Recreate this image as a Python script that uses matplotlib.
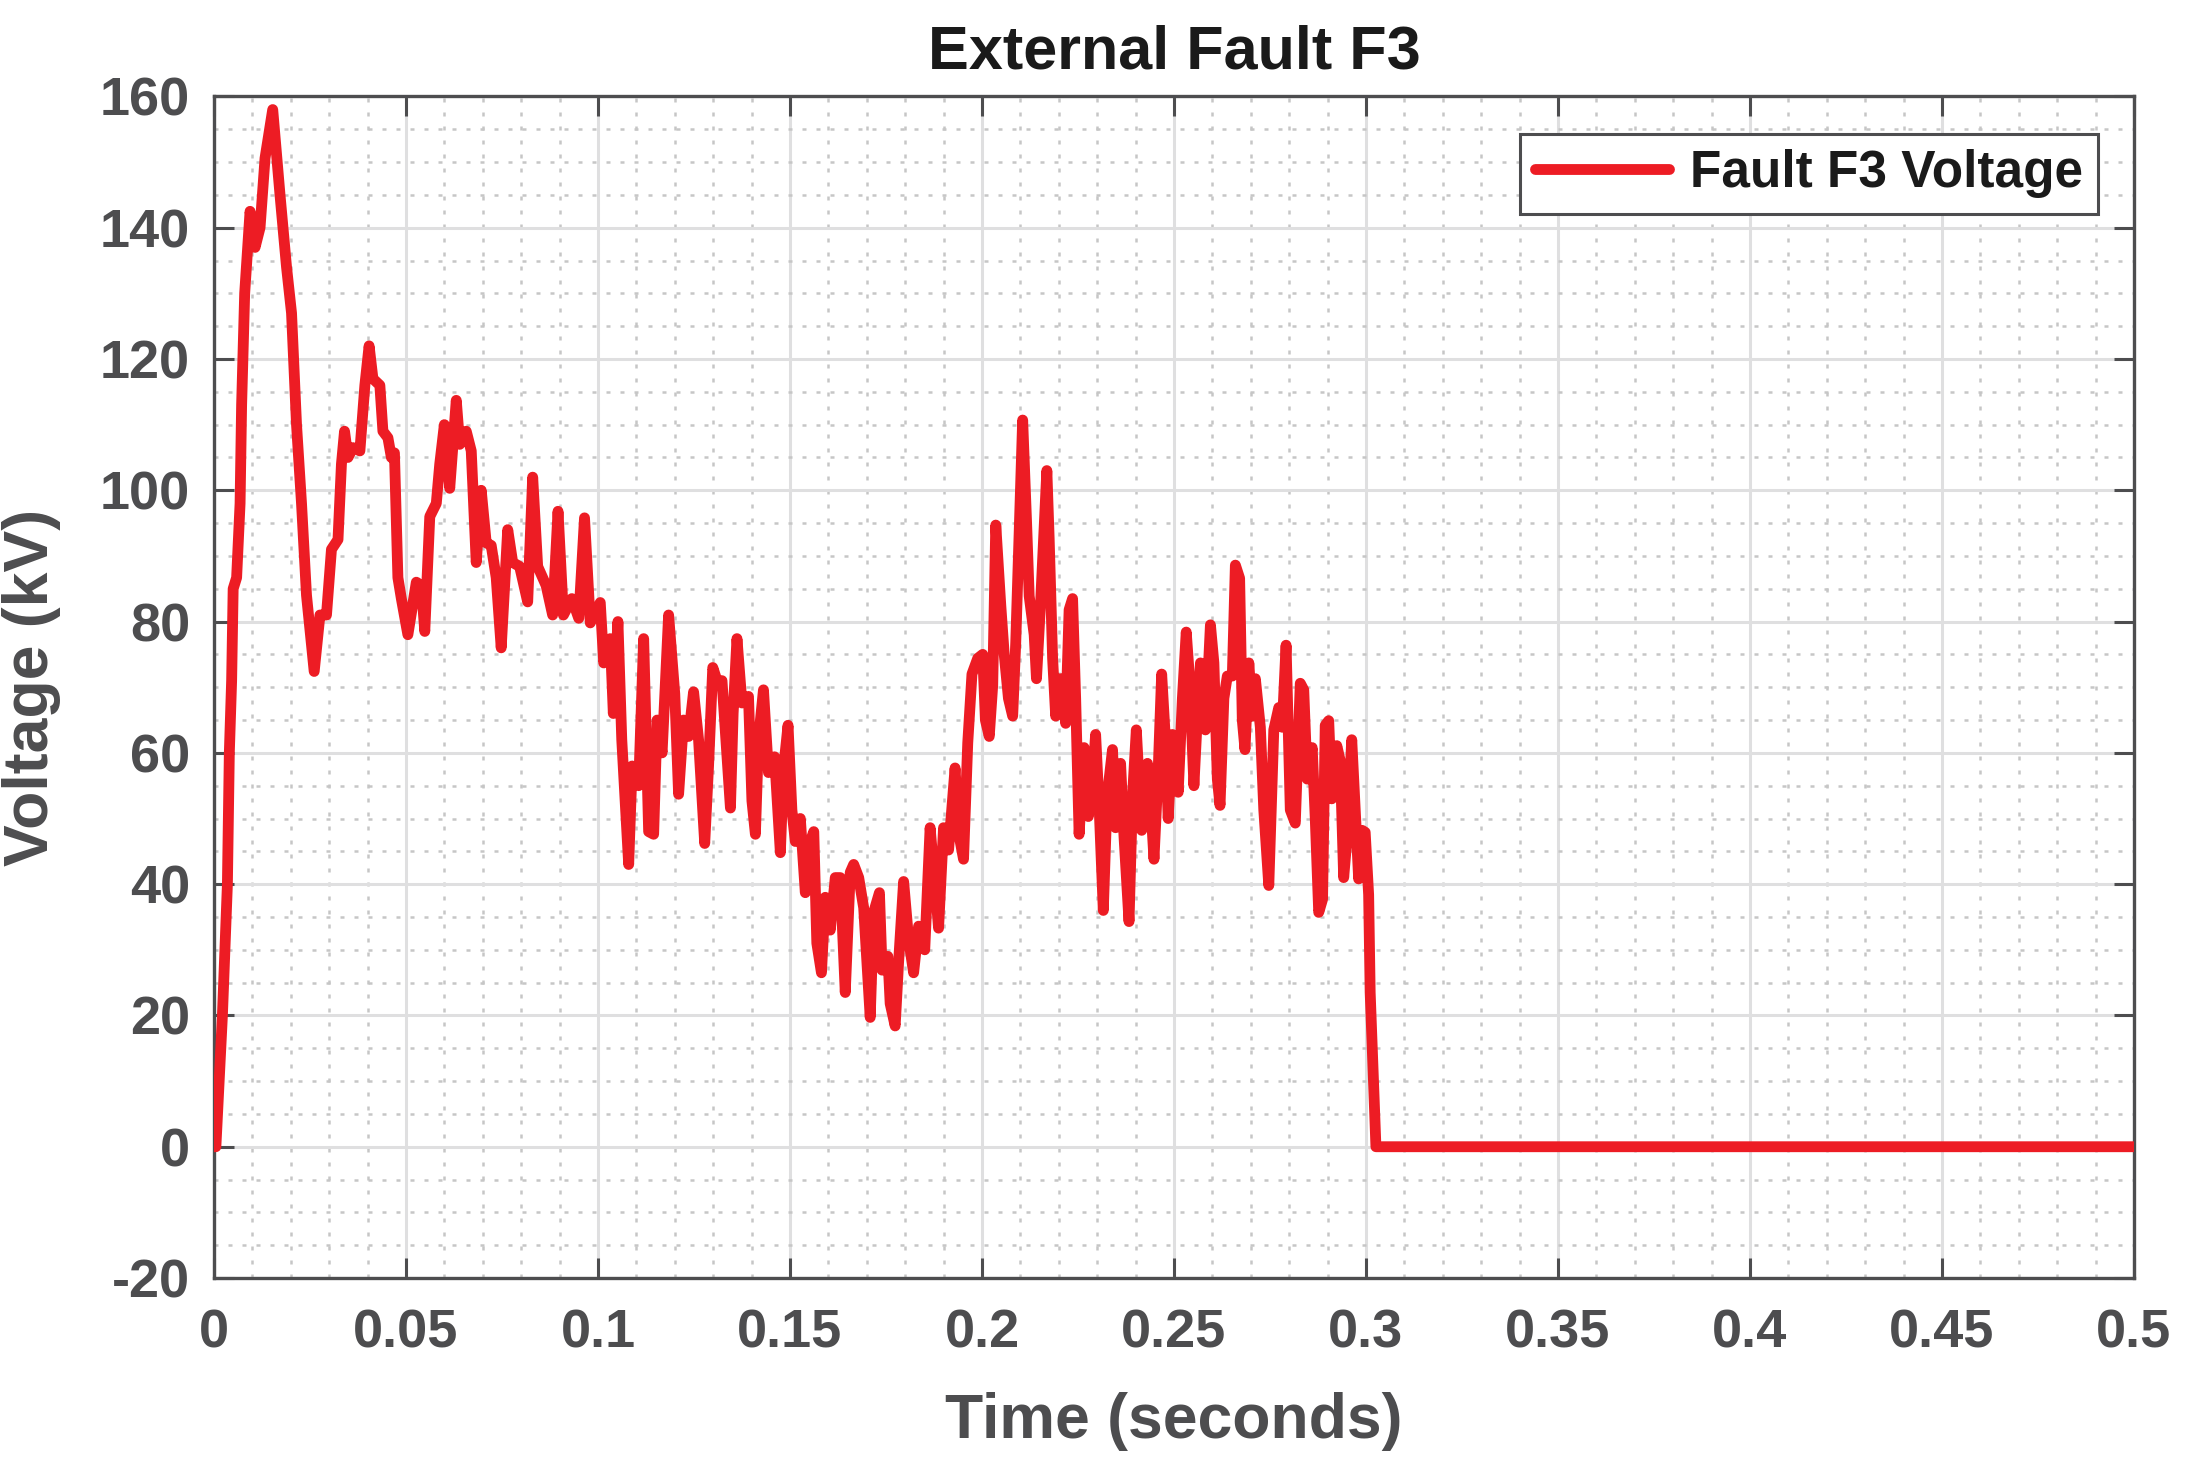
import matplotlib
matplotlib.use("Agg")
import matplotlib.pyplot as plt
from matplotlib.ticker import MultipleLocator

time_s = [
    0, 0.0005, 0.0022, 0.0035, 0.004, 0.0046, 0.005, 0.0059, 0.0068, 0.0072,
    0.008, 0.0094, 0.0107, 0.012, 0.0133, 0.0153, 0.0172, 0.0189, 0.0202, 0.0215,
    0.0228, 0.0241, 0.0261, 0.0276, 0.0293, 0.0306, 0.0323, 0.0332, 0.034, 0.0349,
    0.0362, 0.038, 0.0393, 0.0404, 0.0414, 0.0432, 0.044, 0.0453, 0.0462, 0.047,
    0.0479, 0.0488, 0.0505, 0.0527, 0.054, 0.0549, 0.0562, 0.0579, 0.0588, 0.06,
    0.0614, 0.0631, 0.064, 0.0657, 0.067, 0.0683, 0.0696, 0.0709, 0.0722, 0.0735,
    0.0748, 0.0765, 0.0778, 0.0796, 0.0817, 0.083, 0.0843, 0.0865, 0.0882, 0.0896,
    0.091, 0.0932, 0.095, 0.0965, 0.098, 0.1006, 0.1015, 0.1032, 0.104, 0.1052,
    0.1062, 0.108, 0.1089, 0.1106, 0.1119, 0.1132, 0.1145, 0.1154, 0.1167, 0.1184,
    0.12, 0.121, 0.1223, 0.1236, 0.1249, 0.1262, 0.1278, 0.1288, 0.1299, 0.131,
    0.1323, 0.1332, 0.1345, 0.1352, 0.1362, 0.1375, 0.1392, 0.1401, 0.141, 0.1418,
    0.1431, 0.1444, 0.146, 0.1475, 0.1483, 0.1495, 0.1505, 0.1514, 0.1527, 0.154,
    0.1553, 0.1562, 0.157, 0.1582, 0.1592, 0.1605, 0.1618, 0.1631, 0.1644, 0.1657,
    0.1666, 0.1679, 0.1692, 0.1709, 0.1718, 0.1733, 0.174, 0.1755, 0.1761, 0.1774,
    0.1783, 0.1796, 0.1809, 0.1822, 0.1835, 0.1851, 0.1865, 0.1878, 0.1887, 0.19,
    0.1913, 0.193, 0.1939, 0.1952, 0.1963, 0.1974, 0.1989, 0.2002, 0.2009, 0.2019,
    0.2028, 0.2036, 0.2049, 0.2058, 0.2069, 0.208, 0.2088, 0.2097, 0.2106, 0.2116,
    0.2123, 0.2136, 0.2142, 0.2153, 0.2169, 0.2175, 0.2184, 0.2192, 0.2205, 0.2218,
    0.2227, 0.2236, 0.2244, 0.2253, 0.2266, 0.2277, 0.2288, 0.2296, 0.2305, 0.2316,
    0.2326, 0.234, 0.2348, 0.2361, 0.237, 0.2383, 0.2392, 0.2402, 0.2416, 0.2431,
    0.2439, 0.2448, 0.2459, 0.2468, 0.2477, 0.2485, 0.2496, 0.2511, 0.2522, 0.2532,
    0.2541, 0.2552, 0.2561, 0.2569, 0.2582, 0.2595, 0.2604, 0.2613, 0.262, 0.263,
    0.2639, 0.2652, 0.266, 0.2671, 0.2678, 0.2685, 0.2695, 0.2704, 0.2712, 0.2725,
    0.2734, 0.2747, 0.276, 0.2773, 0.2782, 0.2792, 0.2803, 0.2816, 0.2829, 0.2838,
    0.2847, 0.286, 0.2868, 0.2877, 0.2887, 0.2894, 0.2903, 0.2911, 0.2924, 0.2933,
    0.2942, 0.295, 0.2963, 0.2972, 0.2981, 0.299, 0.2998, 0.3007, 0.3011, 0.3026,
    0.5,
]

voltage_kv = [
    0, 0, 20, 40, 60, 71, 85, 86.7, 98, 113,
    130, 142.5, 137, 140, 150.6, 158, 145, 134, 127, 110,
    98, 84, 72.4, 81, 81, 91, 92.5, 104, 109, 105,
    106.5, 106, 116, 122, 117, 116, 109, 108, 105, 105.7,
    86.7, 83.5, 78, 86, 85.5, 78.5, 96, 98, 104, 110,
    100.3, 113.7, 107, 109, 106, 89, 100, 92, 91.6, 86.7,
    76, 94, 89, 88.4, 83, 102, 88.4, 85.5, 81, 96.8,
    81, 83.5, 80.5, 95.8, 79.8, 82.9, 73.7, 77.4, 66, 80,
    62, 43, 58, 55, 77.4, 48, 47.6, 65, 60, 81,
    69, 53.7, 65, 62.5, 69.3, 62, 46.2, 58, 73, 71,
    71, 63, 51.6, 66, 77.4, 67.6, 68.6, 52.7, 47.6, 62,
    69.6, 57, 59.4, 44.8, 57.4, 64.2, 51.3, 46.5, 50, 38.7,
    46.5, 48, 31, 26.5, 38, 33, 41, 41, 23.5, 41.8,
    43, 41, 36.4, 19.7, 35.7, 38.7, 26.9, 29, 21.8, 18.4,
    28.2, 40.4, 31.6, 26.5, 33.6, 30, 48.6, 39.8, 33.3, 48.6,
    45.2, 57.7, 47.9, 43.8, 61.5, 72, 74.4, 75, 65, 62.5,
    70.3, 94.7, 82.5, 75, 68.3, 65.6, 76.8, 94, 110.7, 95.4,
    83.9, 78, 71.3, 83.2, 103, 92.7, 74.4, 65.6, 71.3, 64.5,
    81.8, 83.5, 68.3, 47.6, 60.8, 50.3, 56, 62.8, 52, 36,
    53.3, 60.5, 48.6, 58.4, 47.2, 34.3, 53.3, 63.5, 48.2, 58.4,
    52.7, 43.8, 57.4, 72, 62.8, 50, 62.8, 54, 68.3, 78.4,
    71, 55, 65.6, 73.7, 63.5, 79.5, 73.7, 56, 52, 68.3,
    71.7, 71.7, 88.6, 86.6, 65, 60.5, 73.7, 65.6, 71.3, 63.9,
    51.3, 39.8, 63.5, 66.9, 63.9, 76.4, 51.3, 49.3, 70.6, 69.6,
    56, 60.8, 50, 35.7, 37.7, 64.2, 64.9, 53, 61.1, 58.8,
    41, 46.5, 62, 51.3, 40.8, 48.2, 47.9, 38.4, 23.5, 0,
    0,
]

x_ticks = [0, 0.05, 0.1, 0.15, 0.2, 0.25, 0.3, 0.35, 0.4, 0.45, 0.5]
x_tick_labels = ["0", "0.05", "0.1", "0.15", "0.2", "0.25", "0.3", "0.35", "0.4", "0.45", "0.5"]
y_ticks = [-20, 0, 20, 40, 60, 80, 100, 120, 140, 160]
y_tick_labels = ["-20", "0", "20", "40", "60", "80", "100", "120", "140", "160"]

plt.rcParams['font.family'] = ['Liberation Sans', 'DejaVu Sans']
plt.rcParams['font.weight'] = 'bold'
plt.rcParams['axes.unicode_minus'] = False

DARK = '#4d4d4f'
fig = plt.figure(figsize=(10.95, 7.35), dpi=200)
ax = fig.add_axes([0.0977, 0.1306, 0.8767, 0.8038])

ax.plot(time_s, voltage_kv, color='#ed1c24', linewidth=3.9,
        solid_joinstyle='round', solid_capstyle='round', label='Fault F3 Voltage', zorder=3)

ax.set_xlim(0, 0.5)
ax.set_ylim(-20, 160)
ax.set_xticks(x_ticks)
ax.set_xticklabels(x_tick_labels)
ax.set_yticks(y_ticks)
ax.set_yticklabels(y_tick_labels)
ax.xaxis.set_minor_locator(MultipleLocator(0.01))
ax.yaxis.set_minor_locator(MultipleLocator(5))

ax.set_axisbelow(True)
ax.grid(which='major', color='#dfdfe0', linewidth=1.1, linestyle='-')
ax.grid(which='minor', color='#c6c6c6', linewidth=0.9, linestyle=(0, (1.6, 4.0)))

ax.tick_params(which='major', direction='in', length=7.2, width=1.1, color=DARK,
               top=True, right=True, labelsize=19.5, labelcolor=DARK)
ax.tick_params(axis='x', which='major', pad=11)
ax.tick_params(axis='y', which='major', pad=8.6)
ax.tick_params(which='minor', length=0, top=True, right=True)
for lab in ax.get_xticklabels() + ax.get_yticklabels():
    lab.set_fontweight('bold')

for sp in ax.spines.values():
    sp.set_color(DARK)
    sp.set_linewidth(1.2)

ax.set_xlabel('Time (seconds)', fontsize=22.5, fontweight='bold', color=DARK, labelpad=12)
ax.set_ylabel('Voltage (kV)', fontsize=22.5, fontweight='bold', color=DARK, labelpad=14)
ax.set_title('External Fault F3', fontsize=22, fontweight='bold', color='#1a1a1a', pad=10)

leg = ax.legend(loc='upper right', bbox_to_anchor=(0.98125, 0.9682), borderaxespad=0,
                fontsize=18.5, frameon=True, fancybox=False, borderpad=0.3,
                handlelength=2.6, handletextpad=0.4)
leg.get_frame().set_edgecolor(DARK)
leg.get_frame().set_linewidth(1.1)
leg.get_frame().set_alpha(1)
for txt in leg.get_texts():
    txt.set_color('#1a1a1a')
    txt.set_fontweight('bold')

fig.savefig('out.png', dpi=200, facecolor='white')
